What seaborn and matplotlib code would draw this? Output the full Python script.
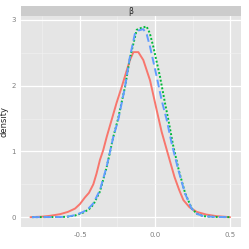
import pandas as pd
import numpy as np
import matplotlib
matplotlib.use("Agg")
import matplotlib.pyplot as plt
import seaborn as sns

# density curves
red_x = [-0.83, -0.75, -0.70, -0.633, -0.58, -0.533, -0.50, -0.467, -0.44, -0.411, -0.39,
         -0.367, -0.345, -0.322, -0.289, -0.256, -0.222, -0.19, -0.167, -0.144, -0.111,
         -0.078, -0.033, 0.011, 0.044, 0.075, 0.10, 0.13, 0.16, 0.189, 0.23, 0.278,
         0.34, 0.41, 0.50]
red_y = [0.0, 0.008, 0.02, 0.045, 0.08, 0.13, 0.20, 0.30, 0.37, 0.50, 0.66,
         0.87, 1.02, 1.22, 1.48, 1.74, 1.98, 2.22, 2.39, 2.51, 2.51,
         2.39, 2.08, 1.63, 1.30, 1.05, 0.85, 0.61, 0.42, 0.26, 0.15, 0.08,
         0.04, 0.015, 0.0]

blue_x = [-0.82, -0.65, -0.589, -0.533, -0.478, -0.44, -0.411, -0.367, -0.322, -0.278, -0.245,
          -0.2, -0.167, -0.133, -0.11, -0.078, -0.055, -0.033, 0.011, 0.044, 0.078,
          0.111, 0.155, 0.2, 0.244, 0.28, 0.322, 0.40, 0.50]
blue_y = [0.0, 0.002, 0.005, 0.03, 0.08, 0.14, 0.21, 0.41, 0.77, 1.22, 1.48,
          1.98, 2.44, 2.80, 2.84, 2.86, 2.78, 2.59, 2.14, 1.78, 1.48,
          1.12, 0.72, 0.36, 0.13, 0.05, 0.015, 0.003, 0.0]

green_x = [-0.82, -0.65, -0.589, -0.533, -0.478, -0.44, -0.411, -0.367, -0.322, -0.278, -0.248,
           -0.2, -0.167, -0.122, -0.09, -0.056, -0.035, -0.011, 0.033, 0.067, 0.089,
           0.12, 0.16, 0.2, 0.245, 0.28, 0.322, 0.40, 0.50]
green_y = [0.0, 0.002, 0.005, 0.025, 0.07, 0.12, 0.19, 0.39, 0.76, 1.22, 1.48,
           1.98, 2.42, 2.85, 2.88, 2.90, 2.80, 2.59, 2.14, 1.73, 1.48,
           1.10, 0.70, 0.37, 0.13, 0.05, 0.015, 0.003, 0.0]

series = ["a", "b", "c"]
colors = {"a": "#F8766D", "b": "#00BA38", "c": "#619CFF"}
dashes = {"a": "", "b": (1, 1), "c": (4, 2)}

df = pd.concat([
    pd.DataFrame({"x": red_x, "density": red_y, "grp": "a"}),
    pd.DataFrame({"x": green_x, "density": green_y, "grp": "b"}),
    pd.DataFrame({"x": blue_x, "density": blue_y, "grp": "c"}),
])

sns.set_theme(style="darkgrid")
fig = plt.figure(figsize=(2.49, 2.49), dpi=100)
ax = fig.add_axes([21 / 249, 1 - 227 / 249, 220 / 249, 211 / 249])
ax.set_facecolor("#E5E5E5")

sns.lineplot(data=df, x="x", y="density", hue="grp", style="grp",
             palette=colors, dashes=dashes, hue_order=series, style_order=series,
             linewidth=1.4, sort=False, estimator=None, legend=False, ax=ax)

ax.set_xlim(-0.893, 0.573)
ax.set_ylim(-0.15, 3.06)
ax.set_xticks([-0.5, 0.0, 0.5])
ax.set_xticklabels(["-0.5", "0.0", "0.5"])
ax.set_yticks([0, 1, 2, 3])
ax.set_xticks([-0.75, -0.25, 0.25], minor=True)
ax.set_yticks([0.5, 1.5, 2.5], minor=True)
ax.grid(True, which="major", color="white", linewidth=0.9)
ax.grid(True, which="minor", color="#F2F2F2", linewidth=0.4)
ax.tick_params(which="major", length=2, width=0.5, color="#7F7F7F",
               labelsize=5, labelcolor="#7F7F7F", pad=1.5)
ax.tick_params(which="minor", length=0)
for s in ax.spines.values():
    s.set_visible(False)
ax.set_xlabel("")
ax.set_ylabel("density", fontsize=6)
ax.yaxis.set_label_coords(-0.058, 0.5)

# facet strip
strip = fig.add_axes([21 / 249, 1 - 16 / 249, 220 / 249, 10 / 249])
strip.set_facecolor("#CCCCCC")
strip.set_xticks([])
strip.set_yticks([])
for s in strip.spines.values():
    s.set_visible(False)
strip.text(0.5, 0.5, "β", ha="center", va="center", fontsize=5.5, transform=strip.transAxes)

fig.savefig("out.png", dpi=100)
